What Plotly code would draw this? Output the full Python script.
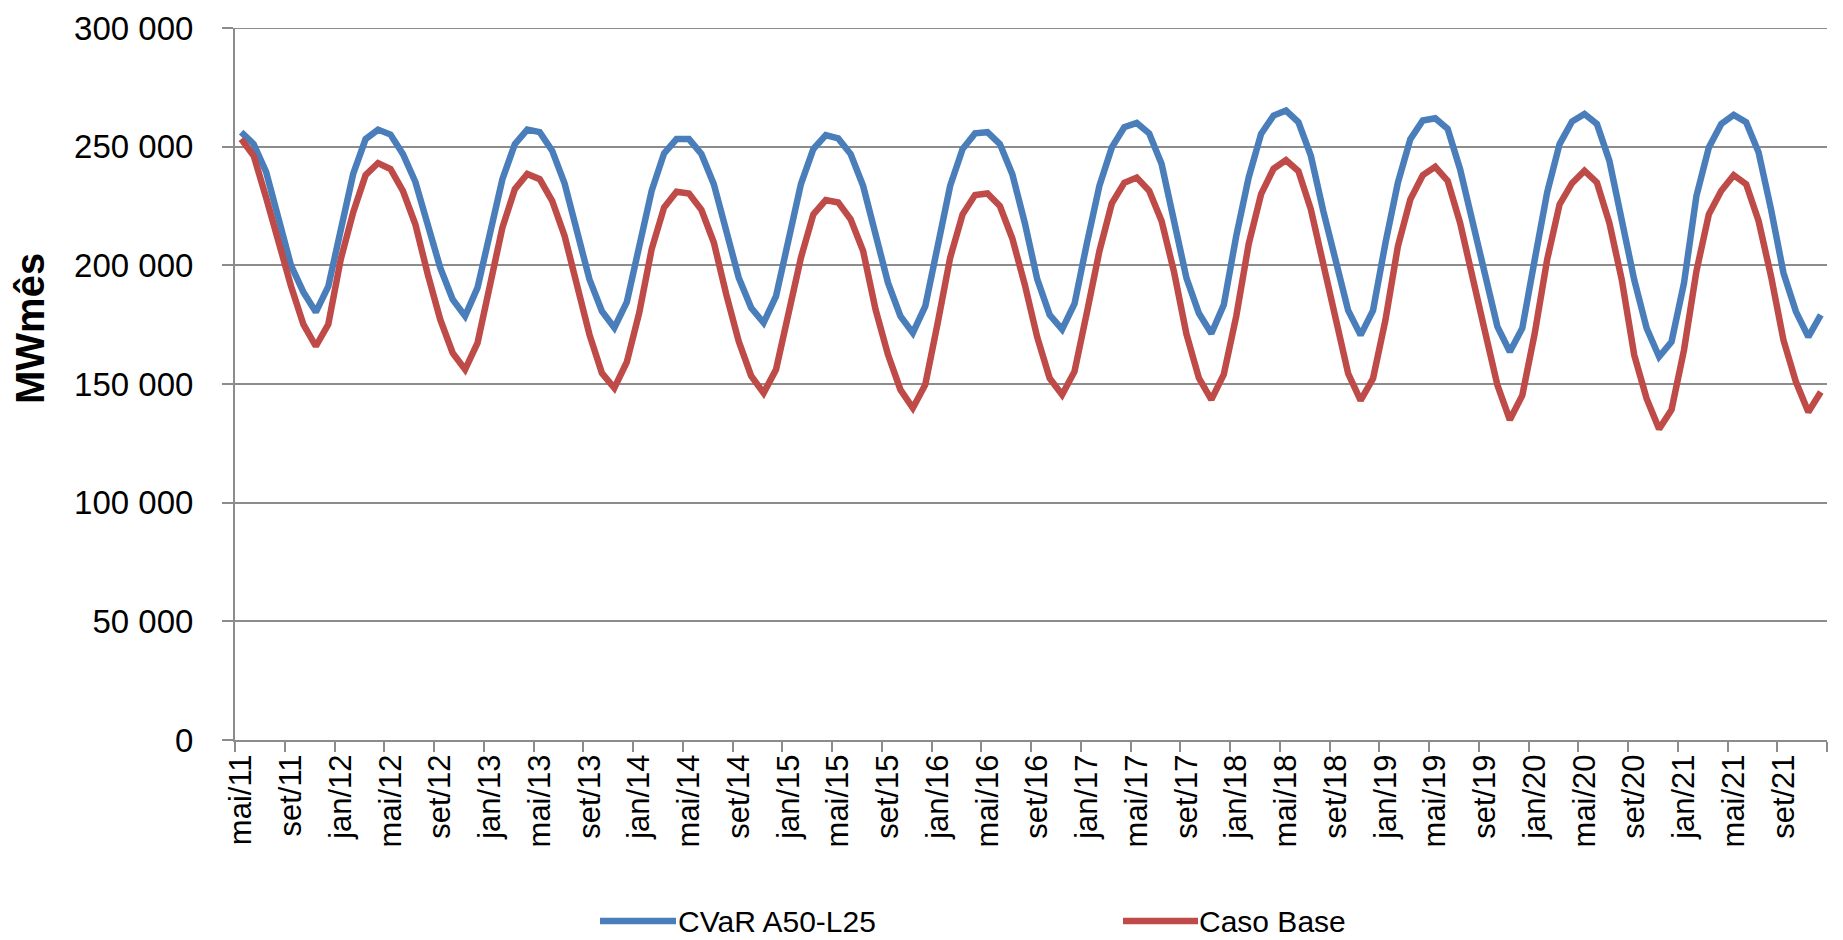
import plotly.graph_objects as go

# Month labels (Portuguese abbreviations), series starts mai/2011, 128 months
month_names = ["jan", "fev", "mar", "abr", "mai", "jun", "jul", "ago", "set", "out", "nov", "dez"]
start_month_index = 4   # mai
start_year = 2011
n_months = 128

categories = []
for k in range(n_months):
    mi = (start_month_index + k) % 12
    yr = start_year + (start_month_index + k) // 12
    categories.append(f"{month_names[mi]}/{yr % 100:02d}")

# CVaR A50-L25 (MWmês)
cvar_a50_l25 = [
    256100, 251100, 239400, 220100, 200000, 188700, 180300, 191100, 215200, 238500, 253200, 257200,
    255100, 246900, 235200, 215900, 199000, 185600, 178600, 190600, 212400, 236300, 251100, 257200,
    256100, 248300, 234500, 213800, 194100, 180700, 173700, 184500, 209600, 231400, 247200, 253200,
    253200, 246900, 234200, 215200, 194800, 182100, 175800, 187000, 211000, 234200, 249000, 254900,
    253500, 246900, 233500, 212400, 192700, 178600, 171500, 182800, 209600, 233500, 249000, 255600,
    256100, 251100, 238400, 217900, 194200, 179100, 173000, 183800, 209500, 233500, 249700, 258200,
    260000, 255600, 242700, 218700, 194600, 179800, 171300, 183400, 212300, 237000, 255400, 263100,
    265200, 260300, 246200, 222900, 201700, 181000, 170600, 181000, 209500, 234900, 253200, 261000,
    262000, 257500, 240500, 217900, 197500, 174200, 163600, 173500, 202400, 230700, 251100, 260600,
    263800, 259600, 244100, 219400, 193900, 173500, 161500, 167800, 192500, 229200, 249700, 259600,
    263400, 260300, 247600, 223600, 196800, 180500, 169900, 179100,
]

# Caso Base (MWmês)
caso_base = [
    253200, 246200, 228600, 209600, 191300, 175100, 165900, 175100, 202500, 222300, 238000, 243100,
    240600, 231400, 217300, 196200, 177200, 163100, 156100, 167300, 192000, 215900, 232100, 238500,
    236300, 227200, 212400, 190600, 170800, 154600, 148300, 159200, 180000, 206800, 224400, 231000,
    230300, 223400, 209600, 187700, 168000, 153400, 146200, 156100, 180000, 203200, 221500, 227500,
    226500, 219400, 206100, 181400, 162400, 147600, 139900, 149700, 175800, 203200, 221500, 229600,
    230300, 225000, 211300, 191900, 169700, 152400, 145500, 155300, 180300, 206000, 226100, 234800,
    237000, 231400, 218700, 197200, 171000, 152500, 143400, 154000, 178500, 208900, 230000, 240700,
    244300, 239700, 223600, 199600, 176300, 154400, 143100, 152300, 177000, 208100, 227800, 238000,
    241500, 235600, 217900, 193900, 172100, 149500, 134900, 145200, 171300, 202400, 225700, 234600,
    239800, 234900, 217900, 193900, 162200, 143800, 131000, 139200, 164300, 197500, 221500, 231400,
    238000, 234200, 218700, 195400, 168500, 150900, 138200, 146600,
]

series_names = ["CVaR A50-L25", "Caso Base"]
series_colors = ["#4A7EBB", "#BE4B48"]
y_title = "MWmês"
y_max = 300000
y_step = 50000

W, H = 1843, 940
ML, MR, MT, MB = 227, 24, 20, 208
PW = W - ML - MR
PH = H - MT - MB


def px_x(px):
    return (px - ML) / PW


def px_y(py):
    return (MT + PH - py) / PH


fig = go.Figure()
for name, vals, col in zip(series_names, [cvar_a50_l25, caso_base], series_colors):
    fig.add_trace(go.Scatter(
        x=categories, y=vals, mode="lines", name=name,
        line=dict(color=col, width=6.5),
        showlegend=False,
    ))

grid_col = "#8C8C8C"
font_fam = "Liberation Sans, Arial, sans-serif"

shapes = []
annotations = []

# top gridline (plotly omits the gridline sitting on the plot edge)
shapes.append(dict(
    type="line", xref="paper", yref="y", layer="below",
    x0=0, x1=1, y0=y_max, y1=y_max,
    line=dict(color=grid_col, width=2),
))

# Manual legend (long line swatches like the original)
legend_y = 913
legend_items = [(592, 668, 668), (1115, 1190, 1189)]  # line start, line end, text start (px)
for (x0, x1, xt), name, col in zip(legend_items, series_names, series_colors):
    shapes.append(dict(
        type="line", xref="paper", yref="paper",
        x0=px_x(x0), x1=px_x(x1), y0=px_y(legend_y), y1=px_y(legend_y),
        line=dict(color=col, width=6.5),
    ))
    annotations.append(dict(
        text=name, xref="paper", yref="paper",
        x=px_x(xt), y=px_y(legend_y), xanchor="left", yanchor="middle",
        showarrow=False,
        font=dict(family=font_fam, size=30, color="black"),
    ))

annotations.append(dict(
    text=f"<b>{y_title}</b>", textangle=-90,
    xref="paper", yref="paper",
    x=px_x(22), y=px_y(321),
    xanchor="center", yanchor="middle", showarrow=False,
    font=dict(family=font_fam, size=40, color="black"),
))

fig.update_layout(
    width=W, height=H,
    margin=dict(l=ML, r=MR, t=MT, b=MB, autoexpand=False),
    paper_bgcolor="white", plot_bgcolor="white",
    separators=", ",
    font=dict(family=font_fam, color="black"),
    showlegend=False,
    shapes=shapes,
    annotations=annotations,
)

fig.update_yaxes(
    range=[0, y_max], dtick=y_step, tickformat=",d",
    showgrid=True, gridcolor=grid_col, gridwidth=2,
    showline=True, linecolor=grid_col, linewidth=2,
    ticks="outside", ticklen=11, tickcolor=grid_col, tickwidth=2,
    tickfont=dict(family=font_fam, size=33, color="black"),
    ticklabelstandoff=22, ticklabeloverflow="allow",
    zeroline=False,
)

fig.update_xaxes(
    type="category", range=[-0.5, n_months - 0.5],
    dtick=4, tickson="boundaries", tickangle=-90,
    showgrid=False,
    showline=True, linecolor=grid_col, linewidth=2,
    ticks="outside", ticklen=10, tickcolor=grid_col, tickwidth=2,
    tickfont=dict(family=font_fam, size=31, color="black"),
    ticklabeloverflow="allow",
)

fig.write_html("out.html")
